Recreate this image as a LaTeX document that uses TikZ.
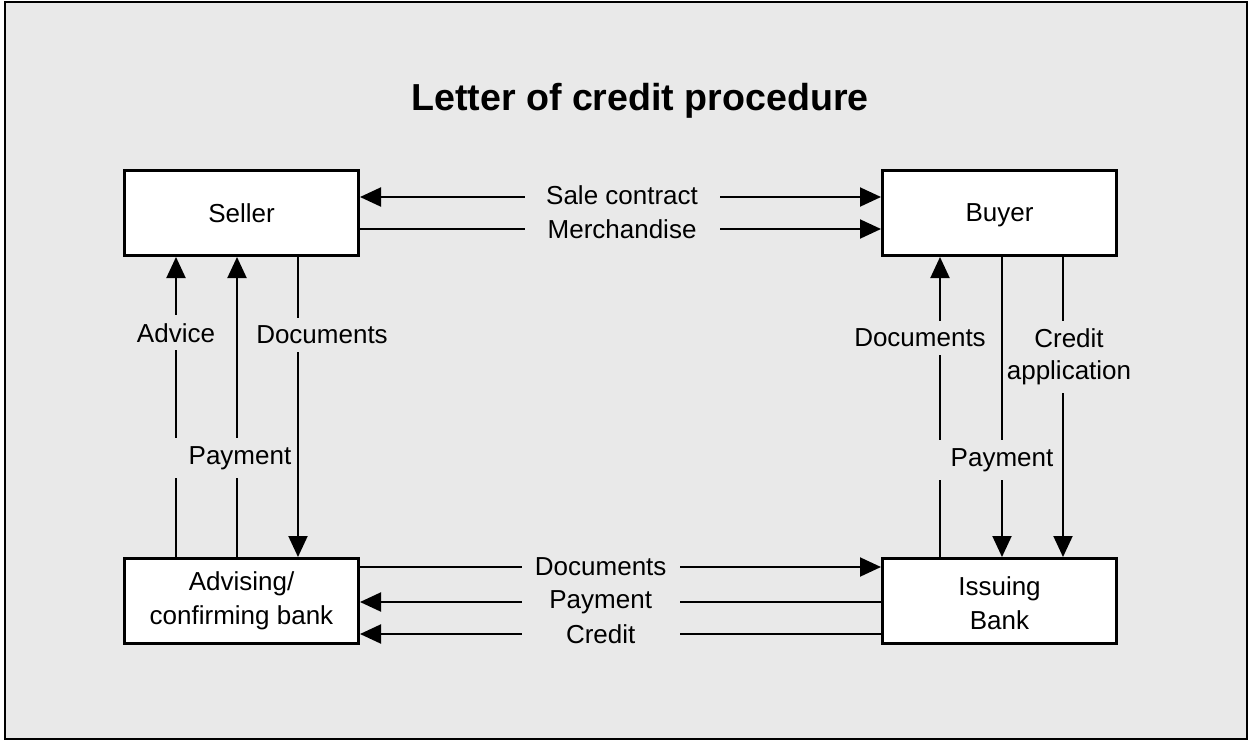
\documentclass[tikz,border=0pt]{standalone}
\usepackage{fontspec}
\setmainfont{Liberation Sans}
\usetikzlibrary{arrows.meta}
\definecolor{panel}{RGB}{233,233,233}

\begin{document}
\begin{tikzpicture}[x=0.5pt, y=-0.5pt,
  party/.style={draw, line width=1.5pt, fill=white, minimum width=117pt, minimum height=42.5pt, inner sep=0pt, align=center, font=\fontsize{13}{17}\selectfont},
  flow/.style={line width=1pt, -{Triangle[length=10.5pt,width=9.5pt]}},
  twoway/.style={line width=1pt, {Triangle[length=10.5pt,width=9.5pt]}-{Triangle[length=10.5pt,width=9.5pt]}},
  lbl/.style={fill=panel, inner xsep=8pt, inner ysep=4pt, align=center, font=\fontsize{13}{16}\selectfont},
  toplbl/.style={lbl, inner xsep=0pt, minimum width=97.5pt},
  banklbl/.style={lbl, inner xsep=0pt, minimum width=79pt}]
\useasboundingbox (0,0) rectangle (1249,740);
\draw [line width=1pt, fill=panel] (4.5,1.5) rectangle (1247,738.5);

\node [anchor=base, font=\bfseries\fontsize{18.8}{22}\selectfont] (title) at (640,110) {Letter of credit procedure};

\node [party] (seller)  at (241.5,213) {Seller};
\node [party, text depth=0pt] (buyer) at (999.5,213) {Buyer};
\node [party] (advbank) at (241.5,601) {Advising/\\confirming bank};
\node [party] (issbank) at (999.5,601) {\rule{0pt}{3pt}\\[-8pt]Issuing\\Bank};

\draw [twoway] ([yshift=8pt]seller.east) -- ([yshift=8pt]buyer.west) node [toplbl, pos=0.503, yshift=1pt] (salelbl) {Sale contract};
\draw [flow] ([yshift=-8pt]seller.east) -- ([yshift=-8pt]buyer.west) node [toplbl, pos=0.503] (merchlbl) {Merchandise};

\draw [flow] ([yshift=17pt]advbank.east) -- ([yshift=17pt]issbank.west) node [banklbl, pos=0.462] (docbanklbl) {Documents};
\draw [flow] ([yshift=-0.5pt]issbank.west) -- ([yshift=-0.5pt]advbank.east) node [banklbl, pos=0.538] (paybanklbl) {Payment};
\draw [flow] ([yshift=-16.5pt]issbank.west) -- ([yshift=-16.5pt]advbank.east) node [banklbl, pos=0.538] (creditlbl) {Credit};

\draw [flow] ([xshift=-32.75pt]advbank.north) -- ([xshift=-32.75pt]seller.south) node [lbl, pos=0.747] (advicelbl) {Advice};
\draw [flow] ([xshift=-2.25pt]advbank.north) -- ([xshift=-2.25pt]seller.south) node [lbl, pos=0.33, xshift=1.5pt] (paysellerlbl) {Payment};
\draw [flow] ([xshift=28.25pt]seller.south) -- ([xshift=28.25pt]advbank.north) node [lbl, pos=0.26, xshift=12pt] (docsellerlbl) {Documents};

\draw [flow] ([xshift=-29.75pt]issbank.north) -- ([xshift=-29.75pt]buyer.south) node [lbl, pos=0.73, xshift=-10pt] (docbuyerlbl) {Documents};
\draw [flow] ([xshift=1.25pt]buyer.south) -- ([xshift=1.25pt]issbank.north) node [lbl, pos=0.677] (paybuyerlbl) {Payment};
\draw [flow] ([xshift=31.75pt]buyer.south) -- ([xshift=31.75pt]issbank.north) node [lbl, inner xsep=2pt, pos=0.333, xshift=3pt] (applylbl) {Credit\\application};

\end{tikzpicture}
\end{document}
